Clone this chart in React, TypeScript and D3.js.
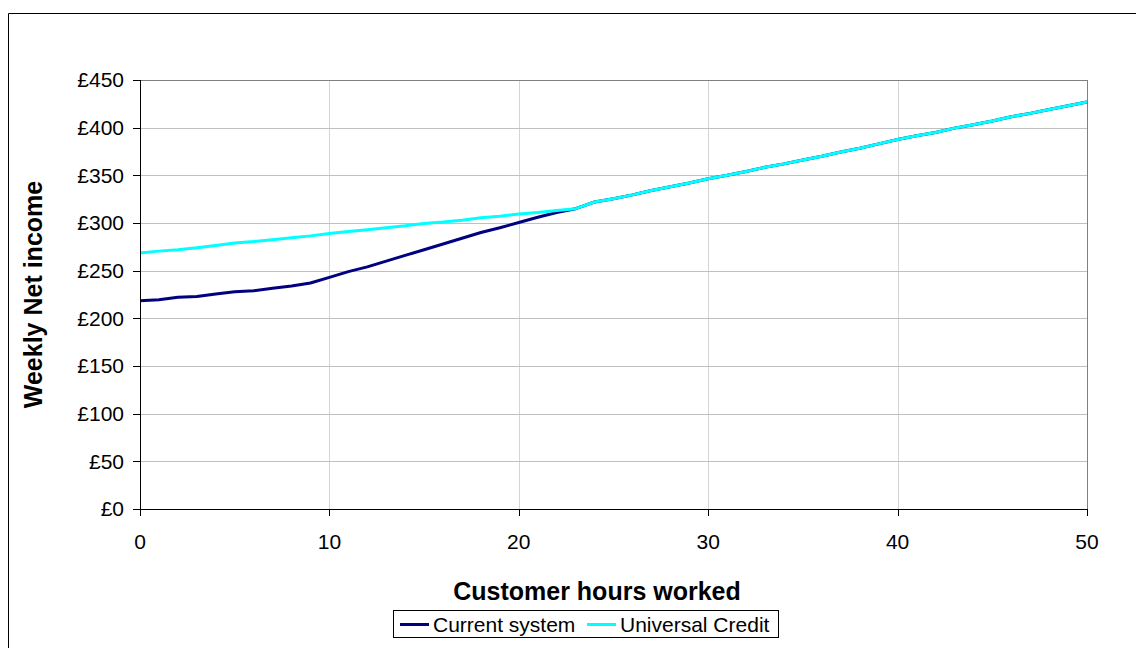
import React from "react";
import * as d3 from "d3";

// Hours worked per week (0..50)
const hours: number[] = d3.range(0, 51);

// Weekly net income under the current benefits system (£)
const currentSystem: number[] = [
  218.5, 219.5, 222, 223, 225.5, 228, 229, 231.5, 234, 237,
  243, 249, 254, 260, 266, 272, 278, 284, 290, 295,
  300.5, 306, 311, 315, 322, 325.5, 329.5, 334, 338, 342,
  346.5, 350, 354, 358.5, 362, 366, 370, 374.5, 378.5, 383,
  387.5, 391.5, 395, 399.5, 403, 407, 411.5, 415, 419, 423,
  427,
];

// Weekly net income under Universal Credit (£)
const universalCredit: number[] = [
  268.5, 270.5, 272, 274, 276.5, 279, 280.5, 282.5, 284.5, 286.5,
  289, 291, 293, 295, 297, 299.5, 301, 303, 305.5, 307,
  309.5, 311, 313, 315, 322, 325.5, 329.5, 334, 338, 342,
  346.5, 350, 354, 358.5, 362, 366, 370, 374.5, 378.5, 383,
  387.5, 391.5, 395, 399.5, 403, 407, 411.5, 415, 419, 423,
  427,
];

const seriesNames = ["Current system", "Universal Credit"];
const seriesColors = ["#000080", "#00FFFF"];
const yTicks: number[] = [0, 50, 100, 150, 200, 250, 300, 350, 400, 450];
const xTicks: number[] = [0, 10, 20, 30, 40, 50];

const W = 1136;
const H = 648;
const plot = { left: 140, right: 1087, top: 80, bottom: 509 };
const FONT = "'Liberation Sans', Arial, Helvetica, sans-serif";

export default function App() {
  const x = d3.scaleLinear().domain([0, 50]).range([plot.left, plot.right]);
  const y = d3.scaleLinear().domain([0, 450]).range([plot.bottom, plot.top]);

  const line = d3
    .line<number>()
    .x((_, i) => x(hours[i]))
    .y((d) => y(d));

  const series = [currentSystem, universalCredit];

  return (
    <svg
      width={W}
      height={H}
      style={{ position: "absolute", left: 0, top: 0, background: "#fff" }}
      fontFamily={FONT}
    >
      {/* chart frame */}
      <line x1={8.5} y1={13.5} x2={W} y2={13.5} stroke="#000" strokeWidth={1} />
      <line x1={8.5} y1={13.5} x2={8.5} y2={H} stroke="#000" strokeWidth={1} />

      {/* vertical gridlines */}
      {xTicks.slice(1, -1).map((t) => (
        <line
          key={"vx" + t}
          x1={Math.round(x(t)) + 0.5}
          x2={Math.round(x(t)) + 0.5}
          y1={plot.top}
          y2={plot.bottom}
          stroke="#d4d4d4"
          strokeWidth={1}
        />
      ))}
      {/* horizontal gridlines */}
      {yTicks.slice(1).map((t) => (
        <line
          key={"hy" + t}
          x1={plot.left}
          x2={plot.right}
          y1={Math.round(y(t)) + 0.5}
          y2={Math.round(y(t)) + 0.5}
          stroke="#c0c0c0"
          strokeWidth={1}
        />
      ))}
      {/* plot area border (top/right) */}
      <line x1={plot.left} x2={plot.right} y1={plot.top + 0.5} y2={plot.top + 0.5} stroke="#808080" />
      <line x1={plot.right + 0.5} x2={plot.right + 0.5} y1={plot.top} y2={plot.bottom} stroke="#808080" />

      {/* series lines */}
      {series.map((s, i) => (
        <path
          key={seriesNames[i]}
          d={line(s) || ""}
          fill="none"
          stroke={seriesColors[i]}
          strokeWidth={3}
          strokeLinejoin="round"
        />
      ))}

      {/* axes */}
      <line x1={plot.left + 0.5} x2={plot.left + 0.5} y1={plot.top} y2={plot.bottom} stroke="#000" />
      <line x1={plot.left} x2={plot.right + 1} y1={plot.bottom + 0.5} y2={plot.bottom + 0.5} stroke="#000" />

      {yTicks.map((t) => (
        <g key={"yt" + t}>
          <line
            x1={plot.left - 7}
            x2={plot.left}
            y1={Math.round(y(t)) + 0.5}
            y2={Math.round(y(t)) + 0.5}
            stroke="#000"
          />
          <text
            x={plot.left - 16}
            y={y(t)}
            dy="0.35em"
            textAnchor="end"
            fontSize={21}
            fill="#000"
          >
            {"£" + t}
          </text>
        </g>
      ))}

      {xTicks.map((t) => (
        <g key={"xt" + t}>
          <line
            x1={Math.round(x(t)) + 0.5}
            x2={Math.round(x(t)) + 0.5}
            y1={plot.bottom}
            y2={plot.bottom + 7}
            stroke="#000"
          />
          <text x={x(t)} y={549} textAnchor="middle" fontSize={21} fill="#000">
            {t}
          </text>
        </g>
      ))}

      {/* axis titles */}
      <text
        x={597}
        y={600}
        textAnchor="middle"
        fontSize={25}
        fontWeight="bold"
        fill="#000"
      >
        Customer hours worked
      </text>
      <text
        transform={`translate(42, ${(plot.top + plot.bottom) / 2}) rotate(-90)`}
        textAnchor="middle"
        fontSize={25}
        fontWeight="bold"
        fill="#000"
      >
        Weekly Net income
      </text>

      {/* legend */}
      <rect x={393.5} y={610.5} width={385} height={27} fill="#fff" stroke="#000" />
      {seriesNames.map((name, i) => {
        const lx = i === 0 ? 400 : 587;
        return (
          <g key={"lg" + name}>
            <line x1={lx} x2={lx + 29} y1={624.5} y2={624.5} stroke={seriesColors[i]} strokeWidth={3} />
            <text x={lx + 33} y={632} fontSize={21} fill="#000">
              {name}
            </text>
          </g>
        );
      })}
    </svg>
  );
}
